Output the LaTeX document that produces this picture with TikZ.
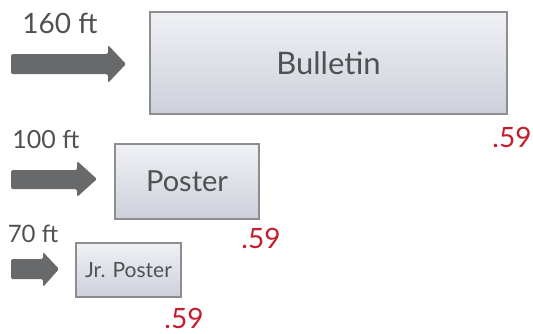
\documentclass[tikz,border=0pt]{standalone}
\usepackage{fontspec}
\setmainfont{Lato}
\usepackage{tikz}
\definecolor{arrowgray}{HTML}{68696B}
\definecolor{boxline}{HTML}{8C8D90}
\definecolor{boxtop}{HTML}{F0F1F5}
\definecolor{boxbottom}{HTML}{CDD0DA}
\definecolor{textgray}{HTML}{505152}
\definecolor{pricered}{HTML}{C41E2E}

\tikzset{
  board/.style={draw=boxline,line width=2pt,top color=boxtop,bottom color=boxbottom,
                text=textgray,inner sep=0pt,anchor=north west},
  dist/.style={text=textgray,anchor=base,inner sep=0pt},
  price/.style={text=pricered,anchor=base,inner sep=0pt},
  blockarrow/.style={fill=arrowgray,rounded corners=1.5pt}
}

\begin{document}
\begin{tikzpicture}[x=1pt,y=-1pt]
            \useasboundingbox (0,0) rectangle (533,333);

            % billboards
            \node[board,minimum width=357pt,minimum height=102pt,font=\fontsize{31}{33}\selectfont] (bulletin) at (149,11) {Bulletin};
            \node[board,minimum width=144pt,minimum height=75pt,font=\fontsize{29}{31}\selectfont] (poster) at (114,143) {Poster};
            \node[board,minimum width=105pt,minimum height=54pt,font=\fontsize{21}{23}\selectfont] (jrposter) at (75,242) {Jr. Poster};

            % viewing distances
            \node[dist,font=\fontsize{28}{30}\selectfont] (d160) at (60,33) {160 ft};
            \node[dist,font=\fontsize{25}{27}\selectfont] (d100) at (46,148) {100 ft};
            \node[dist,font=\fontsize{24}{26}\selectfont] (d70) at (33,242) {70 ft};

            \fill[blockarrow] (11,54)--(108,54)--(108,45)--(126,64)--(108,83)--(108,74)--(11,74)--cycle;
            \fill[blockarrow] (11,170)--(77,170)--(77,161)--(97,179)--(77,197)--(77,189)--(11,189)--cycle;
            \fill[blockarrow] (11,259)--(43,259)--(43,252)--(59,269)--(43,287)--(43,279)--(11,279)--cycle;

            % prices
            \node[price,font=\fontsize{28}{30}\selectfont] (p1) at (512,147) {.59};
            \node[price,font=\fontsize{28}{30}\selectfont] (p2) at (261,248) {.59};
            \node[price,font=\fontsize{28}{30}\selectfont] (p3) at (184,328) {.59};

        \end{tikzpicture}
\end{document}
